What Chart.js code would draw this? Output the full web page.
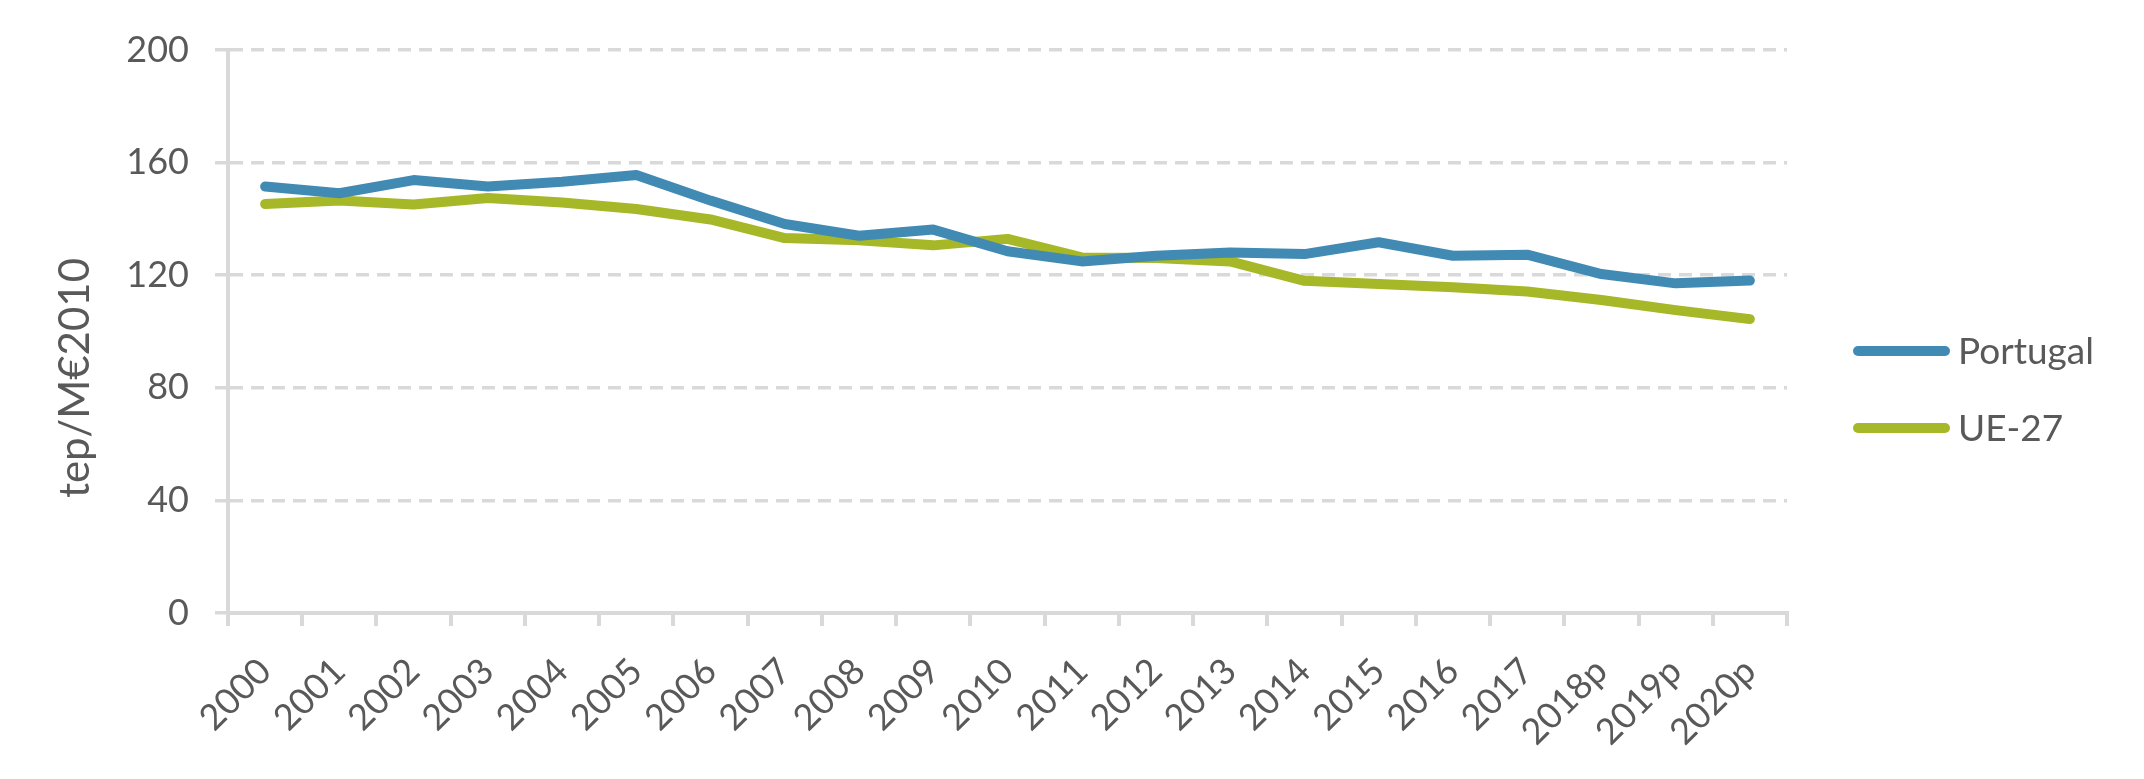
<!DOCTYPE html>
<html>
<head>
<meta charset="utf-8">
<script src="https://cdn.jsdelivr.net/npm/chart.js@4/dist/chart.umd.min.js"></script>
<style>
html,body{margin:0;padding:0;background:#fff;}
canvas{display:block;}
</style>
</head>
<body>
<canvas id="c" width="2144" height="779"></canvas>
<script>
const categories = ['2000','2001','2002','2003','2004','2005','2006','2007','2008','2009','2010','2011','2012','2013','2014','2015','2016','2017','2018p','2019p','2020p'];
const portugal = [151.5,149.1,153.8,151.5,153.2,155.6,146.5,138.2,134.0,136.2,128.5,124.9,126.9,128.1,127.5,131.7,126.9,127.3,120.4,117.1,118.1];
const ue27 = [145.3,146.5,145.1,147.4,145.8,143.5,139.8,133.2,132.4,130.6,132.9,126.3,126.1,124.9,118.0,116.9,115.7,114.2,111.2,107.6,104.4];
const seriesNames = ['Portugal','UE-27'];
const seriesColors = ['#418AB3','#A6B727'];
const yTitle = 'tep/M€2010';
const yMin = 0, yMax = 200, yStep = 40;

const textColor = '#595959';
const gridColor = '#D9D9D9';
const fontFam = "Lato, 'Open Sans', sans-serif";

const customDecor = {
  id: 'customDecor',
  afterDraw(chart) {
    const ctx = chart.ctx;
    ctx.save();
    // y axis title
    ctx.fillStyle = textColor;
    ctx.font = "42px " + fontFam;
    ctx.textAlign = 'center';
    ctx.textBaseline = 'middle';
    ctx.translate(75, 378);
    ctx.rotate(-Math.PI / 2);
    ctx.fillText(yTitle, 0, 0);
    ctx.restore();
    // legend
    ctx.save();
    const ys = [351, 428];
    chart.data.datasets.forEach((ds, i) => {
      ctx.strokeStyle = ds.borderColor;
      ctx.lineWidth = 10;
      ctx.lineCap = 'round';
      ctx.beginPath();
      ctx.moveTo(1858, ys[i]);
      ctx.lineTo(1945, ys[i]);
      ctx.stroke();
      ctx.fillStyle = textColor;
      ctx.font = "37px " + fontFam;
      ctx.textAlign = 'left';
      ctx.textBaseline = 'middle';
      ctx.fillText(ds.label, 1958, ys[i] + 1);
    });
    ctx.restore();
  }
};

new Chart(document.getElementById('c'), {
  type: 'line',
  data: {
    labels: categories,
    datasets: [
      { label: seriesNames[0], data: portugal, borderColor: seriesColors[0], backgroundColor: seriesColors[0] },
      { label: seriesNames[1], data: ue27, borderColor: seriesColors[1], backgroundColor: seriesColors[1] }
    ]
  },
  options: {
    responsive: false,
    animation: false,
    devicePixelRatio: 1,
    layout: { padding: { left: 0, right: 357, top: 50, bottom: 0 } },
    elements: {
      line: { borderWidth: 10, tension: 0, borderCapStyle: 'round', borderJoinStyle: 'round' },
      point: { radius: 0, hoverRadius: 0 }
    },
    plugins: { legend: { display: false }, tooltip: { enabled: false } },
    scales: {
      x: {
        offset: true,
        grid: { offset: true, drawOnChartArea: false, drawTicks: true, tickLength: 13, color: gridColor, lineWidth: 4 },
        border: { display: true, color: gridColor, width: 4 },
        ticks: { color: textColor, font: { size: 36, family: fontFam }, maxRotation: 45, minRotation: 45, padding: 24, autoSkip: false },
        afterFit(scale) { scale.height = 166; }
      },
      y: {
        min: yMin, max: yMax,
        grid: { color: gridColor, lineWidth: 3.5, tickLength: 13, tickBorderDash: [13, 8] },
        border: { display: true, color: gridColor, width: 4, dash: [13, 8] },
        ticks: { stepSize: yStep, color: textColor, font: { size: 36, family: fontFam }, padding: 26 },
        afterFit(scale) { scale.width = 228; }
      }
    }
  },
  plugins: [customDecor]
});
</script>
</body>
</html>
